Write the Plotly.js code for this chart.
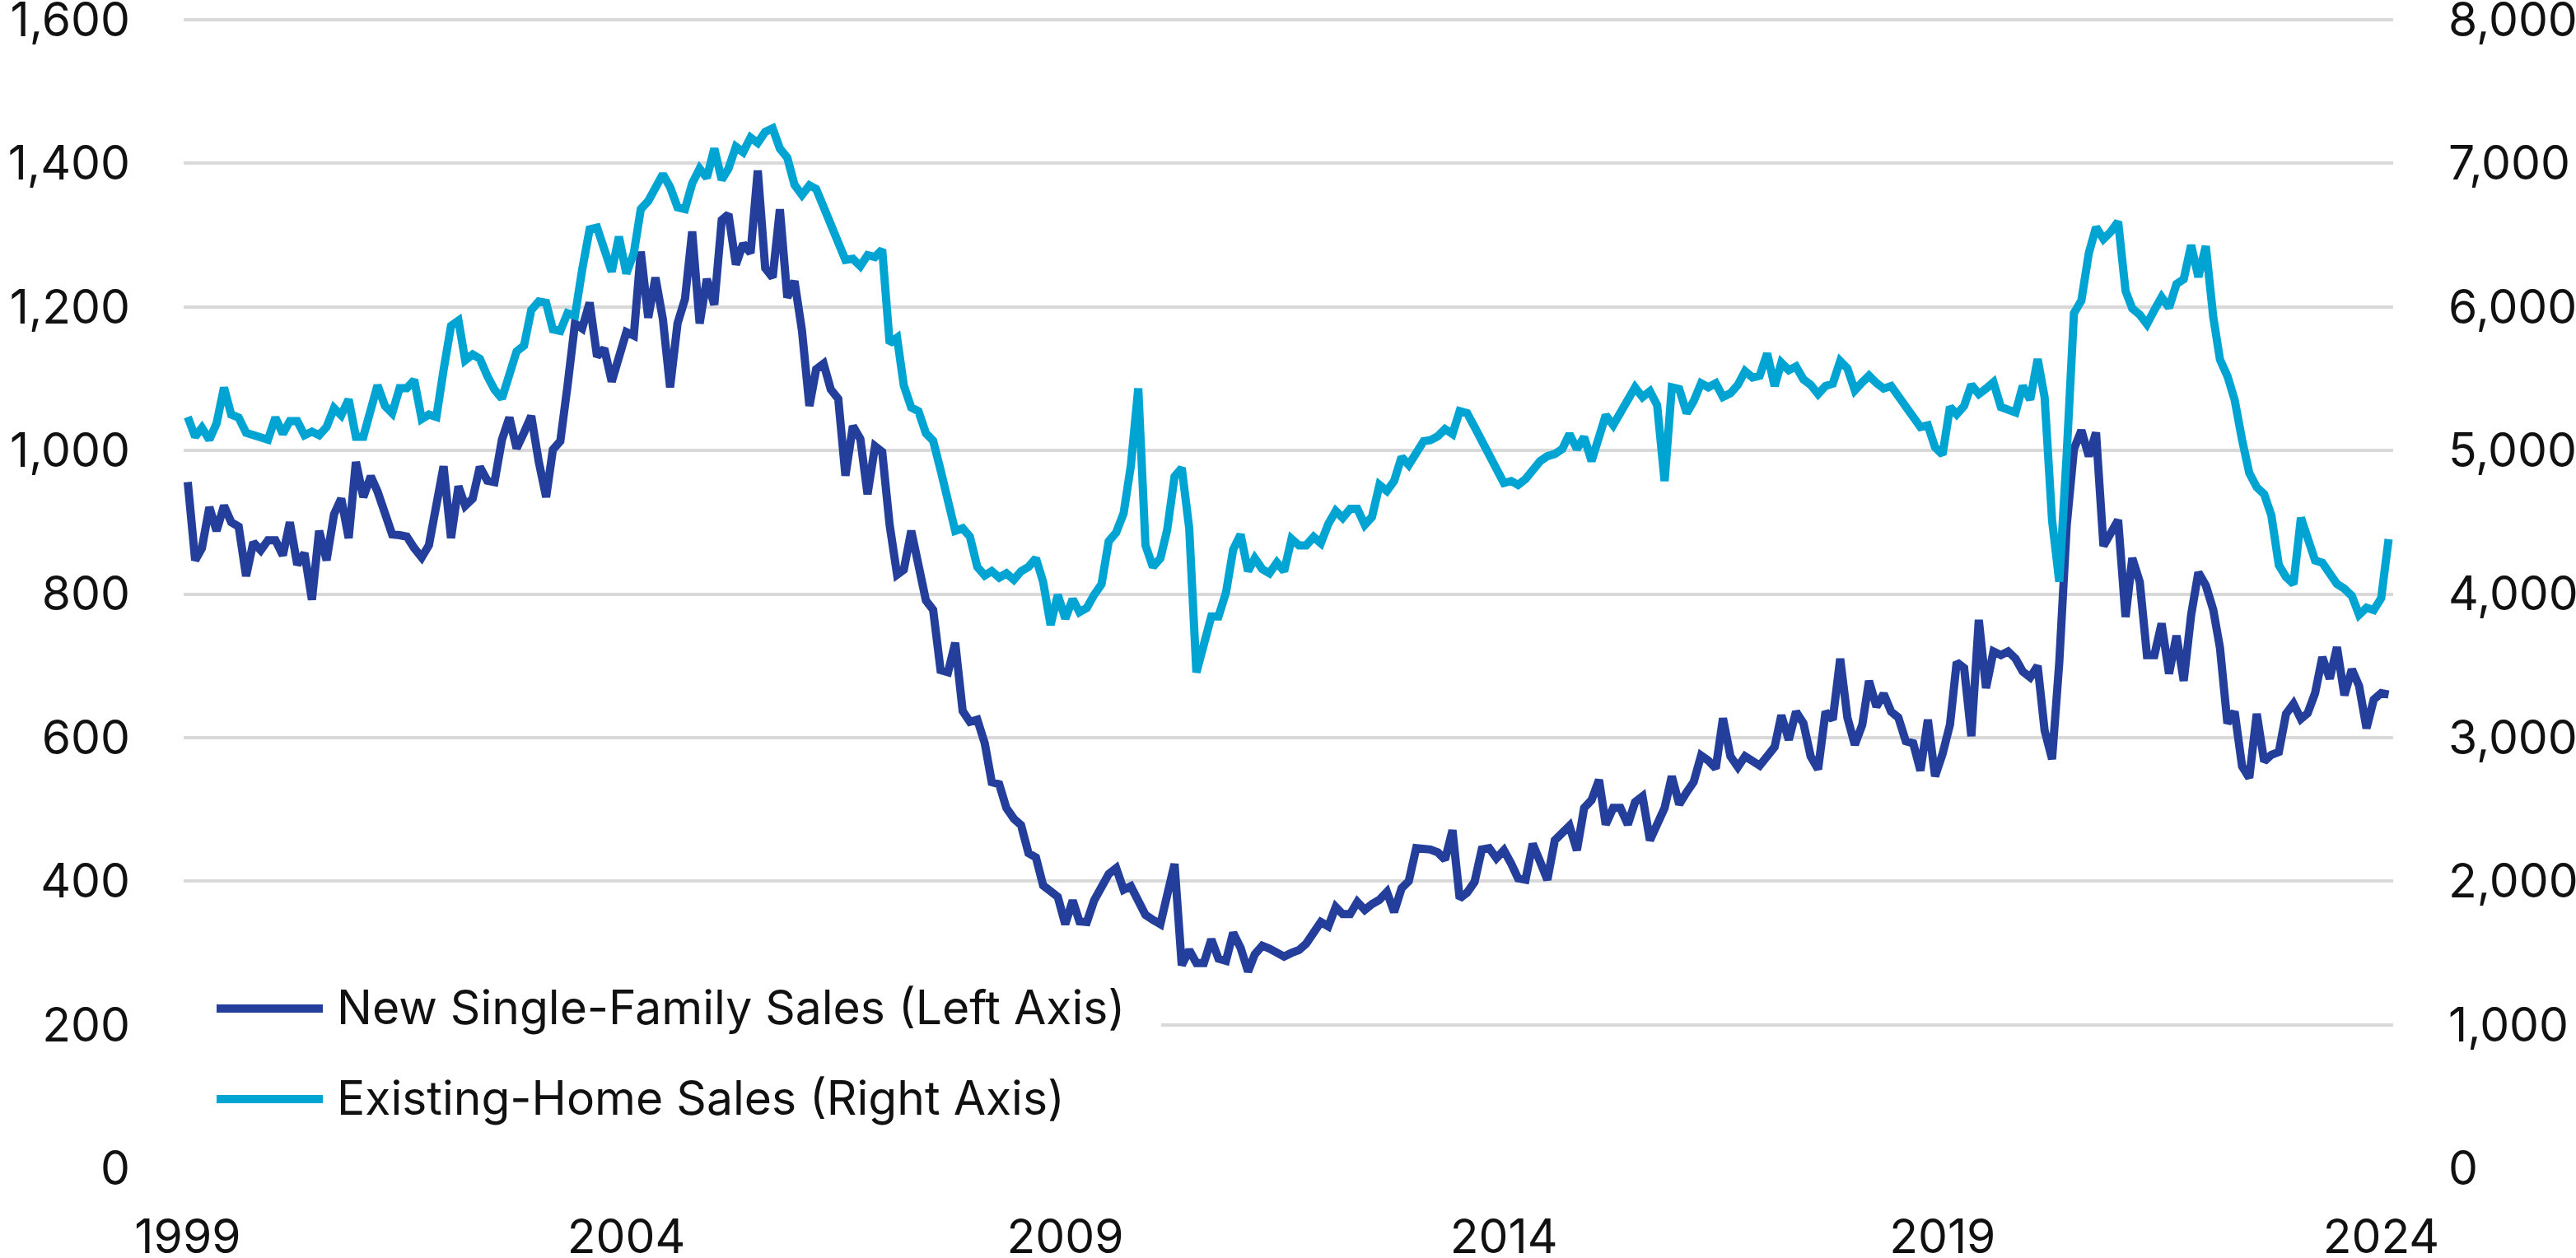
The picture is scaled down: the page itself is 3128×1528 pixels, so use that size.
<!DOCTYPE html>
<html>
<head>
<meta charset="utf-8">
<script src="https://cdn.plot.ly/plotly-3.0.1.min.js"></script>
<style>
html,body{margin:0;padding:0;background:#ffffff;}
#chart{width:3128px;height:1528px;}
</style>
</head>
<body>
<div id="chart"></div>
<script>
// ---------------- DATA ----------------
const seriesNames = ['New Single-Family Sales (Left Axis)', 'Existing-Home Sales (Right Axis)'];
const startYear = 1999; // monthly data from January 1999

// New single-family home sales, thousands (left axis)
const newSales = [
  956, 847, 864, 921, 888, 923, 900, 894, 825, 872, 861, 875,
  875, 854, 900, 841, 857, 792, 888, 847, 911, 933, 878, 984,
  935, 964, 943, 915, 883, 882, 880, 864, 851, 868, 923, 978,
  878, 950, 923, 933, 977, 958, 956, 1015, 1046, 1003, 1025, 1048,
  985, 935, 1001, 1013, 1090, 1177, 1170, 1206, 1131, 1142, 1096, 1131,
  1165, 1160, 1277, 1185, 1241, 1183, 1088, 1177, 1211, 1305, 1177, 1239,
  1203, 1321, 1329, 1259, 1288, 1275, 1390, 1254, 1241, 1336, 1213, 1236,
  1167, 1062, 1113, 1121, 1085, 1072, 965, 1034, 1016, 939, 1006, 998,
  896, 827, 834, 888, 840, 791, 778, 694, 691, 732, 637, 622,
  625, 592, 538, 535, 502, 487, 478, 439, 433, 394, 386, 378,
  340, 373, 344, 343, 373, 394, 410, 418, 388, 393, 372, 353,
  346, 340, 380, 424, 283, 304, 286, 286, 319, 292, 289, 328,
  307, 274, 298, 310, 306, 300, 295, 300, 304, 313, 330, 343,
  337, 364, 354, 354, 371, 360, 368, 374, 385, 357, 390, 400,
  446, 446, 444, 440, 430, 471, 376, 384, 399, 444, 446, 432,
  443, 424, 404, 402, 452, 427, 402, 457, 468, 477, 443, 502,
  513, 541, 479, 502, 502, 479, 510, 518, 457, 477, 502, 546,
  507, 524, 538, 575, 568, 557, 627, 574, 559, 574, 569, 561,
  574, 587, 631, 597, 636, 620, 574, 556, 636, 625, 710, 628,
  590, 618, 679, 643, 661, 636, 628, 595, 592, 554, 625, 546,
  577, 618, 705, 697, 602, 764, 669, 720, 715, 720, 710, 692,
  684, 700, 610, 570, 705, 896, 1002, 1028, 992, 1025, 867, 883,
  903, 768, 850, 817, 715, 715, 759, 689, 742, 679, 771, 830,
  812, 778, 725, 620, 636, 560, 544, 633, 567, 576, 580, 633,
  647, 626, 634, 662, 712, 682, 726, 659, 695, 672, 613, 653,
  662, 660
];

// Existing-home sales, thousands (right axis)
const existingSales = [
  5233, 5096, 5158, 5075, 5188, 5438, 5250, 5229, 5123, 5106, 5090, 5075,
  5229, 5116, 5205, 5205, 5106, 5131, 5106, 5164, 5295, 5245, 5356, 5096,
  5096, 5275, 5454, 5311, 5260, 5434, 5434, 5491, 5219, 5250, 5233, 5560,
  5868, 5905, 5628, 5669, 5639, 5520, 5424, 5362, 5530, 5690, 5731, 5977,
  6038, 6028, 5844, 5833, 5956, 5939, 6259, 6540, 6553, 6400, 6246, 6489,
  6233, 6374, 6681, 6737, 6835, 6924, 6835, 6694, 6681, 6860, 6963, 6899,
  7103, 6886, 6963, 7116, 7078, 7180, 7142, 7219, 7244, 7103, 7039, 6850,
  6780, 6847, 6822, 6694, 6553, 6463, 6327, 6335, 6284, 6361, 6348, 6399,
  5747, 5785, 5452, 5299, 5273, 5120, 5068, 4864, 4650, 4440, 4458, 4400,
  4189, 4129, 4159, 4114, 4144, 4099, 4159, 4189, 4249, 4084, 3784, 3994,
  3829, 3964, 3874, 3904, 3994, 4069, 4368, 4428, 4563, 4893, 5433, 4339,
  4189, 4249, 4444, 4818, 4878, 4459, 3454, 3679, 3844, 3844, 4009, 4309,
  4414, 4159, 4249, 4174, 4144, 4219, 4159, 4384, 4339, 4339, 4398, 4354,
  4488, 4578, 4530, 4593, 4593, 4482, 4537, 4760, 4718, 4787, 4954, 4899,
  4982, 5065, 5071, 5099, 5149, 5115, 5274, 5260, 5163, 5065, 4960, 4884,
  4773, 4787, 4760, 4801, 4871, 4926, 4960, 4976, 5010, 5115, 5010, 5093,
  4926, 5093, 5246, 5176, 5260, 5371, 5440, 5371, 5413, 5315, 4787, 5440,
  5427, 5260, 5343, 5468, 5440, 5468, 5373, 5398, 5457, 5552, 5508, 5521,
  5675, 5449, 5611, 5559, 5585, 5495, 5457, 5393, 5449, 5465, 5623, 5572,
  5419, 5475, 5521, 5470, 5431, 5449, 5380, 5311, 5227, 5163, 5175, 5022,
  4971, 5303, 5252, 5311, 5457, 5393, 5431, 5475, 5303, 5291, 5265, 5449,
  5355, 5636, 5370, 4514, 4086, 4975, 5956, 6045, 6374, 6555, 6473, 6522,
  6594, 6111, 5989, 5946, 5880, 5979, 6068, 5995, 6160, 6193, 6430, 6209,
  6423, 5930, 5633, 5518, 5353, 5074, 4843, 4744, 4695, 4547, 4201, 4119,
  4070, 4531, 4366, 4234, 4218, 4135, 4070, 4037, 3987, 3856, 3905, 3888,
  3971, 4382
];

const xTickYears = [1999, 2004, 2009, 2014, 2019, 2024];
const leftTicks = [0, 200, 400, 600, 800, 1000, 1200, 1400, 1600];
const rightTicks = [0, 1000, 2000, 3000, 4000, 5000, 6000, 7000, 8000];

// ---------------- BUILD ----------------
const months = newSales.map((_, i) => {
  const y = startYear + Math.floor(i / 12);
  const m = (i % 12) + 1;
  return y + '-' + String(m).padStart(2, '0') + '-01';
});

const DARK = '#243f9b';
const LIGHT = '#00a4d3';
const FONT = 'Inter, Roboto, "Liberation Sans", sans-serif';
const FS = 57;
const TXT = '#111111';

const traces = [
  { x: months, y: newSales, name: seriesNames[0], type: 'scatter', mode: 'lines',
    line: { color: DARK, width: 10, shape: 'linear' }, yaxis: 'y', hoverinfo: 'skip' },
  { x: months, y: existingSales, name: seriesNames[1], type: 'scatter', mode: 'lines',
    line: { color: LIGHT, width: 10, shape: 'linear' }, yaxis: 'y2', hoverinfo: 'skip' }
];

// Plot frame in pixels
const W = 3128, H = 1528, ML = 223, MR = 222, MT = 23, MB = 109;
const PW = W - ML - MR, PH = H - MT - MB;
const px = v => (v - ML) / PW;       // pixel x -> paper
const py = v => (H - MB - v) / PH;   // pixel y -> paper

const legendRows = [1225, 1335];
const shapes = [
  { type: 'rect', xref: 'paper', yref: 'paper', x0: -0.002, x1: px(1410), y0: py(1400), y1: py(1140),
    fillcolor: '#ffffff', line: { width: 0 }, layer: 'above' },
  { type: 'line', xref: 'paper', yref: 'paper', x0: px(263), x1: px(392), y0: py(legendRows[0]), y1: py(legendRows[0]),
    line: { color: DARK, width: 10 }, layer: 'above' },
  { type: 'line', xref: 'paper', yref: 'paper', x0: px(263), x1: px(392), y0: py(legendRows[1]), y1: py(legendRows[1]),
    line: { color: LIGHT, width: 10 }, layer: 'above' }
];
const annotations = seriesNames.map((name, i) => ({
  text: name, xref: 'paper', yref: 'paper', x: px(407), y: py(legendRows[i] - 2),
  xanchor: 'left', yanchor: 'middle', showarrow: false,
  font: { family: FONT, size: FS, color: TXT }
}));

const layout = {
  width: W, height: H,
  margin: { l: ML, r: MR, t: MT, b: MB, pad: 0 },
  paper_bgcolor: '#ffffff', plot_bgcolor: '#ffffff',
  showlegend: false,
  font: { family: FONT, size: FS, color: TXT },
  xaxis: {
    type: 'date', range: ['1998-12-15', '2024-02-20'],
    tickmode: 'array', tickvals: xTickYears.map(y => y + '-01-01'), ticktext: xTickYears.map(String),
    showgrid: false, zeroline: false, showline: false, ticks: '',
    ticklabelstandoff: 45, ticklabeloverflow: 'allow',
    tickfont: { family: FONT, size: FS, color: TXT }
  },
  yaxis: {
    range: [0, 1601.2], tickmode: 'array', tickvals: leftTicks, tickformat: ',d',
    showgrid: true, gridcolor: '#d9d9d9', gridwidth: 4,
    zeroline: false, showline: false, ticks: '', ticklabelstandoff: 64, ticklabeloverflow: 'allow',
    tickfont: { family: FONT, size: FS, color: TXT }
  },
  yaxis2: {
    overlaying: 'y', side: 'right', range: [0, 8006], tickmode: 'array', tickvals: rightTicks, tickformat: ',d',
    showgrid: false, zeroline: false, showline: false, ticks: '', ticklabelstandoff: 66, ticklabeloverflow: 'allow',
    tickfont: { family: FONT, size: FS, color: TXT }
  },
  shapes: shapes,
  annotations: annotations
};

Plotly.newPlot('chart', traces, layout, { staticPlot: true, displayModeBar: false });
</script>
</body>
</html>
